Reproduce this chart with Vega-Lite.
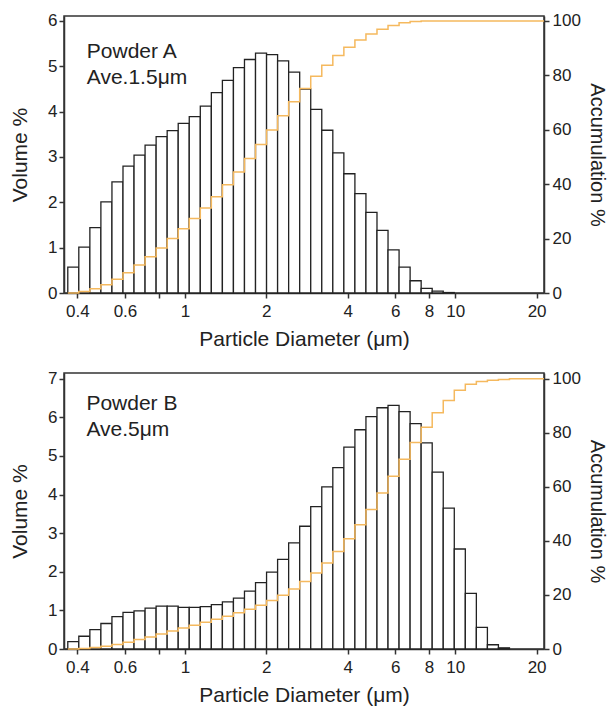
{
  "$schema": "https://vega.github.io/schema/vega-lite/v6.json",
  "padding": {"left": 8, "top": 11, "right": 0, "bottom": 0},
  "spacing": 18,
  "background": "white",
  "config": {
    "font": "Liberation Sans",
    "view": {"stroke": "#333", "strokeWidth": 1.5},
    "axis": {
      "grid": false, "domainColor": "#333", "domainWidth": 1.5,
      "tickColor": "#333", "tickWidth": 1.5, "tickSize": 5,
      "labelFontSize": 17, "labelColor": "#222", "labelFont": "Liberation Sans",
      "titleFontSize": 21, "titleFontWeight": "normal", "titleColor": "#222", "titleFont": "Liberation Sans"
    }
  },
  "datasets": {
    "A": [
      {"lo": 0.3687, "hi": 0.4050, "vol": 0.57, "cum": 0},
      {"lo": 0.4050, "hi": 0.4450, "vol": 1.01, "cum": 0.57},
      {"lo": 0.4450, "hi": 0.4888, "vol": 1.44, "cum": 1.58},
      {"lo": 0.4888, "hi": 0.5371, "vol": 2.01, "cum": 3.02},
      {"lo": 0.5371, "hi": 0.5901, "vol": 2.45, "cum": 5.03},
      {"lo": 0.5901, "hi": 0.6483, "vol": 2.80, "cum": 7.48},
      {"lo": 0.6483, "hi": 0.7122, "vol": 3.04, "cum": 10.28},
      {"lo": 0.7122, "hi": 0.7825, "vol": 3.26, "cum": 13.32},
      {"lo": 0.7825, "hi": 0.8597, "vol": 3.45, "cum": 16.58},
      {"lo": 0.8597, "hi": 0.9445, "vol": 3.58, "cum": 20.03},
      {"lo": 0.9445, "hi": 1.0376, "vol": 3.74, "cum": 23.61},
      {"lo": 1.0376, "hi": 1.1400, "vol": 3.89, "cum": 27.35},
      {"lo": 1.1400, "hi": 1.2524, "vol": 4.12, "cum": 31.24},
      {"lo": 1.2524, "hi": 1.3760, "vol": 4.42, "cum": 35.36},
      {"lo": 1.3760, "hi": 1.5117, "vol": 4.69, "cum": 39.78},
      {"lo": 1.5117, "hi": 1.6608, "vol": 4.97, "cum": 44.47},
      {"lo": 1.6608, "hi": 1.8246, "vol": 5.15, "cum": 49.44},
      {"lo": 1.8246, "hi": 2.0045, "vol": 5.29, "cum": 54.59},
      {"lo": 2.0045, "hi": 2.2022, "vol": 5.26, "cum": 59.88},
      {"lo": 2.2022, "hi": 2.4195, "vol": 5.12, "cum": 65.14},
      {"lo": 2.4195, "hi": 2.6581, "vol": 4.87, "cum": 70.26},
      {"lo": 2.6581, "hi": 2.9203, "vol": 4.50, "cum": 75.13},
      {"lo": 2.9203, "hi": 3.2083, "vol": 4.05, "cum": 79.63},
      {"lo": 3.2083, "hi": 3.5248, "vol": 3.59, "cum": 83.68},
      {"lo": 3.5248, "hi": 3.8724, "vol": 3.09, "cum": 87.27},
      {"lo": 3.8724, "hi": 4.2544, "vol": 2.63, "cum": 90.36},
      {"lo": 4.2544, "hi": 4.6740, "vol": 2.19, "cum": 92.99},
      {"lo": 4.6740, "hi": 5.1350, "vol": 1.78, "cum": 95.18},
      {"lo": 5.1350, "hi": 5.6414, "vol": 1.38, "cum": 96.96},
      {"lo": 5.6414, "hi": 6.1979, "vol": 0.95, "cum": 98.34},
      {"lo": 6.1979, "hi": 6.8092, "vol": 0.57, "cum": 99.29},
      {"lo": 6.8092, "hi": 7.4808, "vol": 0.27, "cum": 99.80},
      {"lo": 7.4808, "hi": 8.2187, "vol": 0.10, "cum": 99.95},
      {"lo": 8.2187, "hi": 9.0293, "vol": 0.04, "cum": 100},
      {"lo": 9.0293, "hi": 9.9198, "vol": 0.01, "cum": 100},
      {"lo": 9.9198, "cum": 100},
      {"lo": 21.3, "cum": 100}
    ],
    "B": [
      {"lo": 0.3687, "hi": 0.4050, "vol": 0.19, "cum": 0},
      {"lo": 0.4050, "hi": 0.4450, "vol": 0.33, "cum": 0.19},
      {"lo": 0.4450, "hi": 0.4888, "vol": 0.50, "cum": 0.52},
      {"lo": 0.4888, "hi": 0.5371, "vol": 0.66, "cum": 1.02},
      {"lo": 0.5371, "hi": 0.5901, "vol": 0.84, "cum": 1.68},
      {"lo": 0.5901, "hi": 0.6483, "vol": 0.95, "cum": 2.52},
      {"lo": 0.6483, "hi": 0.7122, "vol": 0.99, "cum": 3.47},
      {"lo": 0.7122, "hi": 0.7825, "vol": 1.06, "cum": 4.46},
      {"lo": 0.7825, "hi": 0.8597, "vol": 1.11, "cum": 5.52},
      {"lo": 0.8597, "hi": 0.9445, "vol": 1.11, "cum": 6.63},
      {"lo": 0.9445, "hi": 1.0376, "vol": 1.08, "cum": 7.74},
      {"lo": 1.0376, "hi": 1.1400, "vol": 1.08, "cum": 8.82},
      {"lo": 1.1400, "hi": 1.2524, "vol": 1.10, "cum": 9.90},
      {"lo": 1.2524, "hi": 1.3760, "vol": 1.15, "cum": 11.00},
      {"lo": 1.3760, "hi": 1.5117, "vol": 1.22, "cum": 12.15},
      {"lo": 1.5117, "hi": 1.6608, "vol": 1.32, "cum": 13.37},
      {"lo": 1.6608, "hi": 1.8246, "vol": 1.50, "cum": 14.69},
      {"lo": 1.8246, "hi": 2.0045, "vol": 1.72, "cum": 16.19},
      {"lo": 2.0045, "hi": 2.2022, "vol": 1.99, "cum": 17.91},
      {"lo": 2.2022, "hi": 2.4195, "vol": 2.32, "cum": 19.90},
      {"lo": 2.4195, "hi": 2.6581, "vol": 2.75, "cum": 22.22},
      {"lo": 2.6581, "hi": 2.9203, "vol": 3.18, "cum": 24.97},
      {"lo": 2.9203, "hi": 3.2083, "vol": 3.69, "cum": 28.15},
      {"lo": 3.2083, "hi": 3.5248, "vol": 4.20, "cum": 31.84},
      {"lo": 3.5248, "hi": 3.8724, "vol": 4.70, "cum": 36.04},
      {"lo": 3.8724, "hi": 4.2544, "vol": 5.23, "cum": 40.74},
      {"lo": 4.2544, "hi": 4.6740, "vol": 5.68, "cum": 45.97},
      {"lo": 4.6740, "hi": 5.1350, "vol": 6.02, "cum": 51.65},
      {"lo": 5.1350, "hi": 5.6414, "vol": 6.25, "cum": 57.67},
      {"lo": 5.6414, "hi": 6.1979, "vol": 6.31, "cum": 63.92},
      {"lo": 6.1979, "hi": 6.8092, "vol": 6.15, "cum": 70.23},
      {"lo": 6.8092, "hi": 7.4808, "vol": 5.84, "cum": 76.38},
      {"lo": 7.4808, "hi": 8.2187, "vol": 5.34, "cum": 82.0},
      {"lo": 8.2187, "hi": 9.0293, "vol": 4.58, "cum": 87.4},
      {"lo": 9.0293, "hi": 9.9198, "vol": 3.65, "cum": 91.9},
      {"lo": 9.9198, "hi": 10.897, "vol": 2.59, "cum": 95.7},
      {"lo": 10.897, "hi": 11.971, "vol": 1.44, "cum": 97.9},
      {"lo": 11.971, "hi": 13.152, "vol": 0.56, "cum": 99.0},
      {"lo": 13.152, "hi": 14.445, "vol": 0.11, "cum": 99.4},
      {"lo": 14.445, "hi": 15.870, "vol": 0.03, "cum": 99.7},
      {"lo": 15.870, "cum": 100},
      {"lo": 21.3, "cum": 100}
    ]
  },
  "vconcat": [
    {
      "width": 480, "height": 277,
      "layer": [
        {"layer": [
          {
            "data": {"name": "A"},
            "mark": {"type": "bar", "fill": "white", "stroke": "#222", "strokeWidth": 1.3},
            "encoding": {
              "x": {"field": "lo", "type": "quantitative", "title": "Particle Diameter (μm)",
                "scale": {"type": "log", "domain": [0.357, 21.3], "nice": false},
                "axis": {"values": [0.4, 0.6, 0.8, 1, 2, 4, 6, 8, 10, 20], "labelExpr": "datum.value == 0.8 ? '' : format(datum.value, '~g')", "labelPadding": 5, "titlePadding": 9}},
              "x2": {"field": "hi"},
              "y": {"field": "vol", "type": "quantitative", "title": "Volume %",
                "scale": {"domain": [0, 6.11], "nice": false},
                "axis": {"values": [0, 1, 2, 3, 4, 5, 6], "labelPadding": 2, "titlePadding": 17}},
              "y2": {"datum": 0}
            }
          },
          {
            "data": {"values": [{"t": "Powder A", "x": 0.4335, "y": 5.19}, {"t": "Ave.1.5μm", "x": 0.4335, "y": 4.60}]},
            "mark": {"type": "text", "align": "left", "baseline": "alphabetic", "fontSize": 21, "color": "#222"},
            "encoding": {
              "x": {"field": "x", "type": "quantitative", "title": "Particle Diameter (μm)",
                "axis": {"values": [0.4, 0.6, 0.8, 1, 2, 4, 6, 8, 10, 20], "labelExpr": "datum.value == 0.8 ? '' : format(datum.value, '~g')", "labelPadding": 5, "titlePadding": 9}},
              "y": {"field": "y", "type": "quantitative", "title": "Volume %",
                "axis": {"values": [0, 1, 2, 3, 4, 5, 6], "labelPadding": 2, "titlePadding": 17}},
              "text": {"field": "t"}
            }
          }
        ]},
        {
          "data": {"name": "A"},
          "mark": {"type": "line", "interpolate": "step-after", "color": "#f5b95e", "strokeWidth": 1.5},
          "encoding": {
            "x": {"field": "lo", "type": "quantitative", "title": "Particle Diameter (μm)",
              "axis": {"values": [0.4, 0.6, 0.8, 1, 2, 4, 6, 8, 10, 20], "labelExpr": "datum.value == 0.8 ? '' : format(datum.value, '~g')", "labelPadding": 5, "titlePadding": 9}},
            "y": {"field": "cum", "type": "quantitative", "title": "Accumulation %",
              "scale": {"domain": [0, 101.8], "nice": false},
              "axis": {"orient": "right", "values": [0, 20, 40, 60, 80, 100], "labelPadding": 3, "titlePadding": 6, "titleFontSize": 20}}
          }
        }
      ],
      "resolve": {"scale": {"y": "independent"}}
    },
    {
      "width": 480, "height": 276,
      "layer": [
        {"layer": [
          {
            "data": {"name": "B"},
            "mark": {"type": "bar", "fill": "white", "stroke": "#222", "strokeWidth": 1.3},
            "encoding": {
              "x": {"field": "lo", "type": "quantitative", "title": "Particle Diameter (μm)",
                "scale": {"type": "log", "domain": [0.357, 21.3], "nice": false},
                "axis": {"values": [0.4, 0.6, 0.8, 1, 2, 4, 6, 8, 10, 20], "labelExpr": "datum.value == 0.8 ? '' : format(datum.value, '~g')", "labelPadding": 5, "titlePadding": 9}},
              "x2": {"field": "hi"},
              "y": {"field": "vol", "type": "quantitative", "title": "Volume %",
                "scale": {"domain": [0, 7.15], "nice": false},
                "axis": {"values": [0, 1, 2, 3, 4, 5, 6, 7], "labelPadding": 2, "titlePadding": 17}},
              "y2": {"datum": 0}
            }
          },
          {
            "data": {"values": [{"t": "Powder B", "x": 0.432, "y": 6.2}, {"t": "Ave.5μm", "x": 0.432, "y": 5.52}]},
            "mark": {"type": "text", "align": "left", "baseline": "alphabetic", "fontSize": 21, "color": "#222"},
            "encoding": {
              "x": {"field": "x", "type": "quantitative", "title": "Particle Diameter (μm)",
                "axis": {"values": [0.4, 0.6, 0.8, 1, 2, 4, 6, 8, 10, 20], "labelExpr": "datum.value == 0.8 ? '' : format(datum.value, '~g')", "labelPadding": 5, "titlePadding": 9}},
              "y": {"field": "y", "type": "quantitative", "title": "Volume %",
                "axis": {"values": [0, 1, 2, 3, 4, 5, 6, 7], "labelPadding": 2, "titlePadding": 17}},
              "text": {"field": "t"}
            }
          }
        ]},
        {
          "data": {"name": "B"},
          "mark": {"type": "line", "interpolate": "step-after", "color": "#f5b95e", "strokeWidth": 1.5},
          "encoding": {
            "x": {"field": "lo", "type": "quantitative", "title": "Particle Diameter (μm)",
              "axis": {"values": [0.4, 0.6, 0.8, 1, 2, 4, 6, 8, 10, 20], "labelExpr": "datum.value == 0.8 ? '' : format(datum.value, '~g')", "labelPadding": 5, "titlePadding": 9}},
            "y": {"field": "cum", "type": "quantitative", "title": "Accumulation %",
              "scale": {"domain": [0, 102.1], "nice": false},
              "axis": {"orient": "right", "values": [0, 20, 40, 60, 80, 100], "labelPadding": 3, "titlePadding": 6, "titleFontSize": 20}}
          }
        }
      ],
      "resolve": {"scale": {"y": "independent"}}
    }
  ]
}
